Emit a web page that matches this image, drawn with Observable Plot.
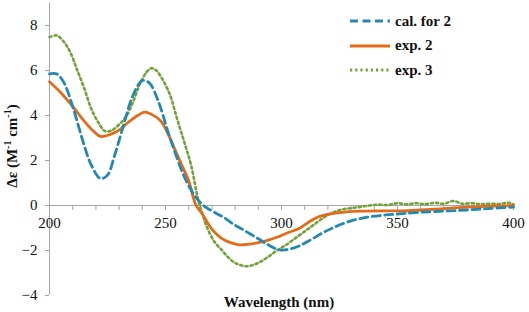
<!DOCTYPE html>
<html><head><meta charset="utf-8">
<script src="https://cdn.jsdelivr.net/npm/d3@7"></script>
<script src="https://cdn.jsdelivr.net/npm/@observablehq/plot@0.6"></script>
<style>
body{margin:0;background:#fff;}
#wrap{position:relative;width:529px;height:312px;}
#wrap, #wrap *, #wrap svg text, #wrap svg tspan {font-family:"Liberation Serif",serif !important;}
#legend{position:absolute;left:350px;top:9px;font-weight:bold;font-size:15px;color:#111;}
#legend .row{display:flex;align-items:center;height:24.5px;}
#legend svg{margin-right:5px;}
</style>
</head><body>
<div id="wrap"><div id="chart"></div><div id="legend"></div></div>
<script>
const seriesNames = ["cal. for 2", "exp. 2", "exp. 3"];
const calWl = [200,203,206,210,214,218,222,225,228,232,236,240,243,247,251,255,258,261,264,267,271,275,279,283,290,295,299,303,308,313,318,323,330,337,345,352,360,370,380,390,400];
const calVal = [5.85,5.85,5.5,4.4,3.0,1.8,1.2,1.35,2.2,3.6,4.9,5.55,5.45,4.6,3.3,2.1,1.3,0.7,0.25,-0.05,-0.3,-0.52,-0.81,-1.05,-1.48,-1.79,-1.97,-1.95,-1.78,-1.5,-1.2,-0.95,-0.68,-0.52,-0.42,-0.36,-0.3,-0.25,-0.2,-0.13,-0.07];
const exp2Wl = [200,205,210,215,219,222,226,230,234,238,241,244,248,251,254,257,260,263,266,270,274,278,282,286,290,294,298,303,308,312,316,321,328,335,345,352,360,370,380,390,400];
const exp2Val = [5.5,5.0,4.4,3.75,3.3,3.07,3.15,3.35,3.7,4.0,4.15,4.05,3.75,3.2,2.5,1.8,1.1,0.05,-0.4,-1.05,-1.45,-1.65,-1.75,-1.72,-1.65,-1.55,-1.41,-1.2,-1.0,-0.72,-0.5,-0.37,-0.28,-0.25,-0.24,-0.24,-0.2,-0.14,-0.07,-0.03,0];
const exp3Wl = [200,203,206,209,212,215,218,221,224,227,230,233,236,239,242,244,246,249,252,255,258,261,264,266,268,271,274,277,280,285,290,294,298,302,306,310,314,318,322,326,330,334,338,342,346,350,354,358,362,366,370,374,378,382,386,390,394,398,400];
const exp3Val = [7.48,7.56,7.3,6.8,6.0,5.2,4.3,3.7,3.3,3.35,3.6,3.95,4.6,5.4,5.95,6.1,6.0,5.55,4.9,3.85,2.85,1.8,0.3,-0.4,-1.0,-1.6,-1.95,-2.3,-2.55,-2.7,-2.55,-2.3,-2.0,-1.75,-1.45,-1.15,-0.85,-0.55,-0.32,-0.18,-0.12,-0.06,0.0,0.04,0.02,0.1,0.05,0.1,0.06,0.12,0.08,0.2,0.08,0.1,0.06,0.08,0.07,0.12,0.05];
const xMajor = [200,250,300,350,400];
const xMinor = d3.range(200, 401, 10);
const yTicks = [-4,-2,0,2,4,6,8];
const colors = ["#2389b0", "#e36c1a", "#74a23a"];

const toRows = (w, v) => w.map((x, i) => ({x, y: v[i]}));
const cal = toRows(calWl, calVal), exp2 = toRows(exp2Wl, exp2Val), exp3 = toRows(exp3Wl, exp3Val);
const grey = "#a6a6a6";

const plot = Plot.plot({
  width: 529, height: 312,
  marginLeft: 49, marginRight: 16, marginTop: 2.5, marginBottom: 17,
  style: {fontSize: "15px", color: "#111", background: "#fff"},
  x: {domain: [200, 400], axis: null},
  y: {domain: [-4, 9], axis: null},
  marks: [
    Plot.ruleX([200], {y1: -4, y2: 9, stroke: grey, strokeWidth: 1}),
    Plot.ruleY([0], {x1: 200, x2: 400, stroke: grey, strokeWidth: 1}),
    Plot.ruleX(xMinor, {x: d => d, y1: 0, y2: 0, insetBottom: -5, stroke: grey}),
    Plot.axisY(yTicks, {tickSize: 4, tickPadding: 8, stroke: grey, label: null, fill: "#111"}),
    Plot.text(xMajor, {x: d => d, y: 0, dy: 18, text: d => String(d), fill: "#111"}),
    Plot.line(exp3, {x: "x", y: "y", curve: "catmull-rom", stroke: colors[2], strokeWidth: 2.6, strokeDasharray: "2.2,3"}),
    Plot.line(exp2, {x: "x", y: "y", curve: "catmull-rom", stroke: colors[1], strokeWidth: 2.8}),
    Plot.line(cal, {x: "x", y: "y", curve: "catmull-rom", stroke: colors[0], strokeWidth: 2.8, strokeDasharray: "8,4.5"})
  ]
});
document.getElementById("chart").appendChild(plot);

const svg = d3.select(plot);
const yl = svg.append("text")
  .attr("transform", "translate(17,146) rotate(-90)")
  .attr("text-anchor", "middle")
  .attr("font-weight", "bold").attr("font-size", 15).attr("fill", "#111");
yl.append("tspan").text("Δε (M");
yl.append("tspan").attr("font-size", 10).attr("dy", -6).text("-1");
yl.append("tspan").attr("dy", 6).text(" cm");
yl.append("tspan").attr("font-size", 10).attr("dy", -6).text("-1");
yl.append("tspan").attr("dy", 6).text(")");
svg.append("text").attr("x", 279).attr("y", 307).attr("text-anchor", "middle")
  .attr("font-weight", "bold").attr("font-size", 15).attr("fill", "#111").text("Wavelength (nm)");

const dashes = ["8,4.5", null, "2.2,3"];
const leg = d3.select("#legend");
seriesNames.forEach((n, i) => {
  const row = leg.append("div").attr("class", "row");
  const s = row.append("svg").attr("width", 40).attr("height", 6);
  s.append("line").attr("x1", 0).attr("x2", 40).attr("y1", 3).attr("y2", 3)
    .attr("stroke", colors[i]).attr("stroke-width", 2.8).attr("stroke-dasharray", dashes[i]);
  row.append("span").text(n);
});
</script>
</body></html>
